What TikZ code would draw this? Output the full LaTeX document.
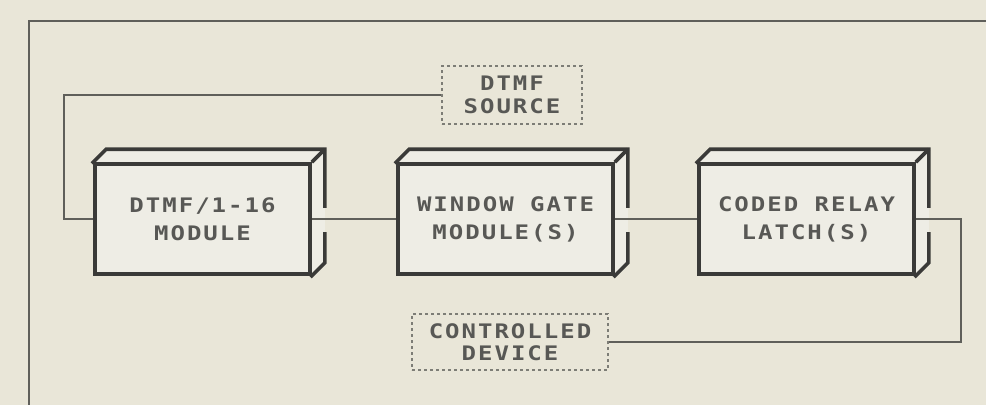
\documentclass[tikz,border=0pt]{standalone}
\usepackage{fontspec}
\newfontfamily\plotfont[FakeStretch=1.2,LetterSpace=10]{DejaVu Sans Mono}
\usetikzlibrary{calc}
\definecolor{bgcol}{RGB}{233,230,216}
\definecolor{facecol}{RGB}{238,237,229}
\definecolor{inkcol}{RGB}{58,58,56}
\definecolor{linecol}{RGB}{95,95,90}
\definecolor{textcol}{RGB}{88,88,85}
\definecolor{dashcol}{RGB}{125,125,118}
\tikzset{
  boxline/.style={draw=inkcol,line width=3.6pt,line join=miter},
  modbox/.style={boxline,fill=facecol,minimum width=215pt,minimum height=110pt,
    inner sep=0pt,align=center,text=textcol,
    font=\plotfont\bfseries\fontsize{20}{28}\selectfont},
  extbox/.style={draw=dashcol,line width=1.8pt,dash pattern=on 3pt off 3pt,
    inner sep=0pt,align=center,text=textcol,
    font=\plotfont\bfseries\fontsize{20}{22.5}\selectfont},
  wire/.style={draw=linecol,line width=2pt},
  frameline/.style={draw=linecol,line width=2.4pt}
}
\newcommand{\backface}[1]{%
  \fill[facecol] (#1.north west) -- ++(13,-13) -- ([shift={(13,-13)}]#1.north east)
     -- ([shift={(13,-13)}]#1.south east) -- (#1.south east) -- (#1.north east) -- cycle;
  \draw[boxline,line cap=rect] (#1.north west) -- ++(13,-13) -- ([shift={(13,-13)}]#1.north east)
     -- ([shift={(13,-13)}]#1.east);
  \draw[boxline] (#1.north east) -- ++(13,-13);
  \draw[boxline,line cap=rect] ([shift={(13,15)}]#1.east) -- ([shift={(13,-13)}]#1.south east)
     -- (#1.south east);
}
\begin{document}
\begin{tikzpicture}[x=1pt,y=-1pt]
\useasboundingbox (0,0) rectangle (986,405);
\fill[bgcol] (0,0) rectangle (986,405);
% outer frame (cut by the picture edges)
\draw[frameline] (986,21) -- (29,21) -- (29,405);
% external boxes
\node[extbox,minimum width=140pt,minimum height=58pt] (src) at (512,95) {DTMF\\SOURCE};
\node[extbox,minimum width=196pt,minimum height=56pt] (dev) at (510,342) {CONTROLLED\\DEVICE};
% module boxes
\node[modbox,draw=none,fill=none] (b1) at (202.5,219) {};
\node[modbox,draw=none,fill=none] (b2) at (505.5,219) {};
\node[modbox,draw=none,fill=none] (b3) at (806.5,219) {};
\backface{b1}
\backface{b2}
\backface{b3}
\node[modbox] (m1) at (b1) {DTMF/1-16\\MODULE};
\node[modbox] (m2) at (b2) {WINDOW GATE\\MODULE(S)};
\node[modbox] (m3) at (b3) {CODED RELAY\\LATCH(S)};
% connectors
\draw[wire] (m1.west) -- ++(-29,0) |- (src.west);
\draw[wire] (m1.east) -- (m2.west);
\draw[wire] (m2.east) -- (m3.west);
\draw[wire] (m3.east) -- ++(45,0) |- (dev.east);
\end{tikzpicture}
\end{document}
